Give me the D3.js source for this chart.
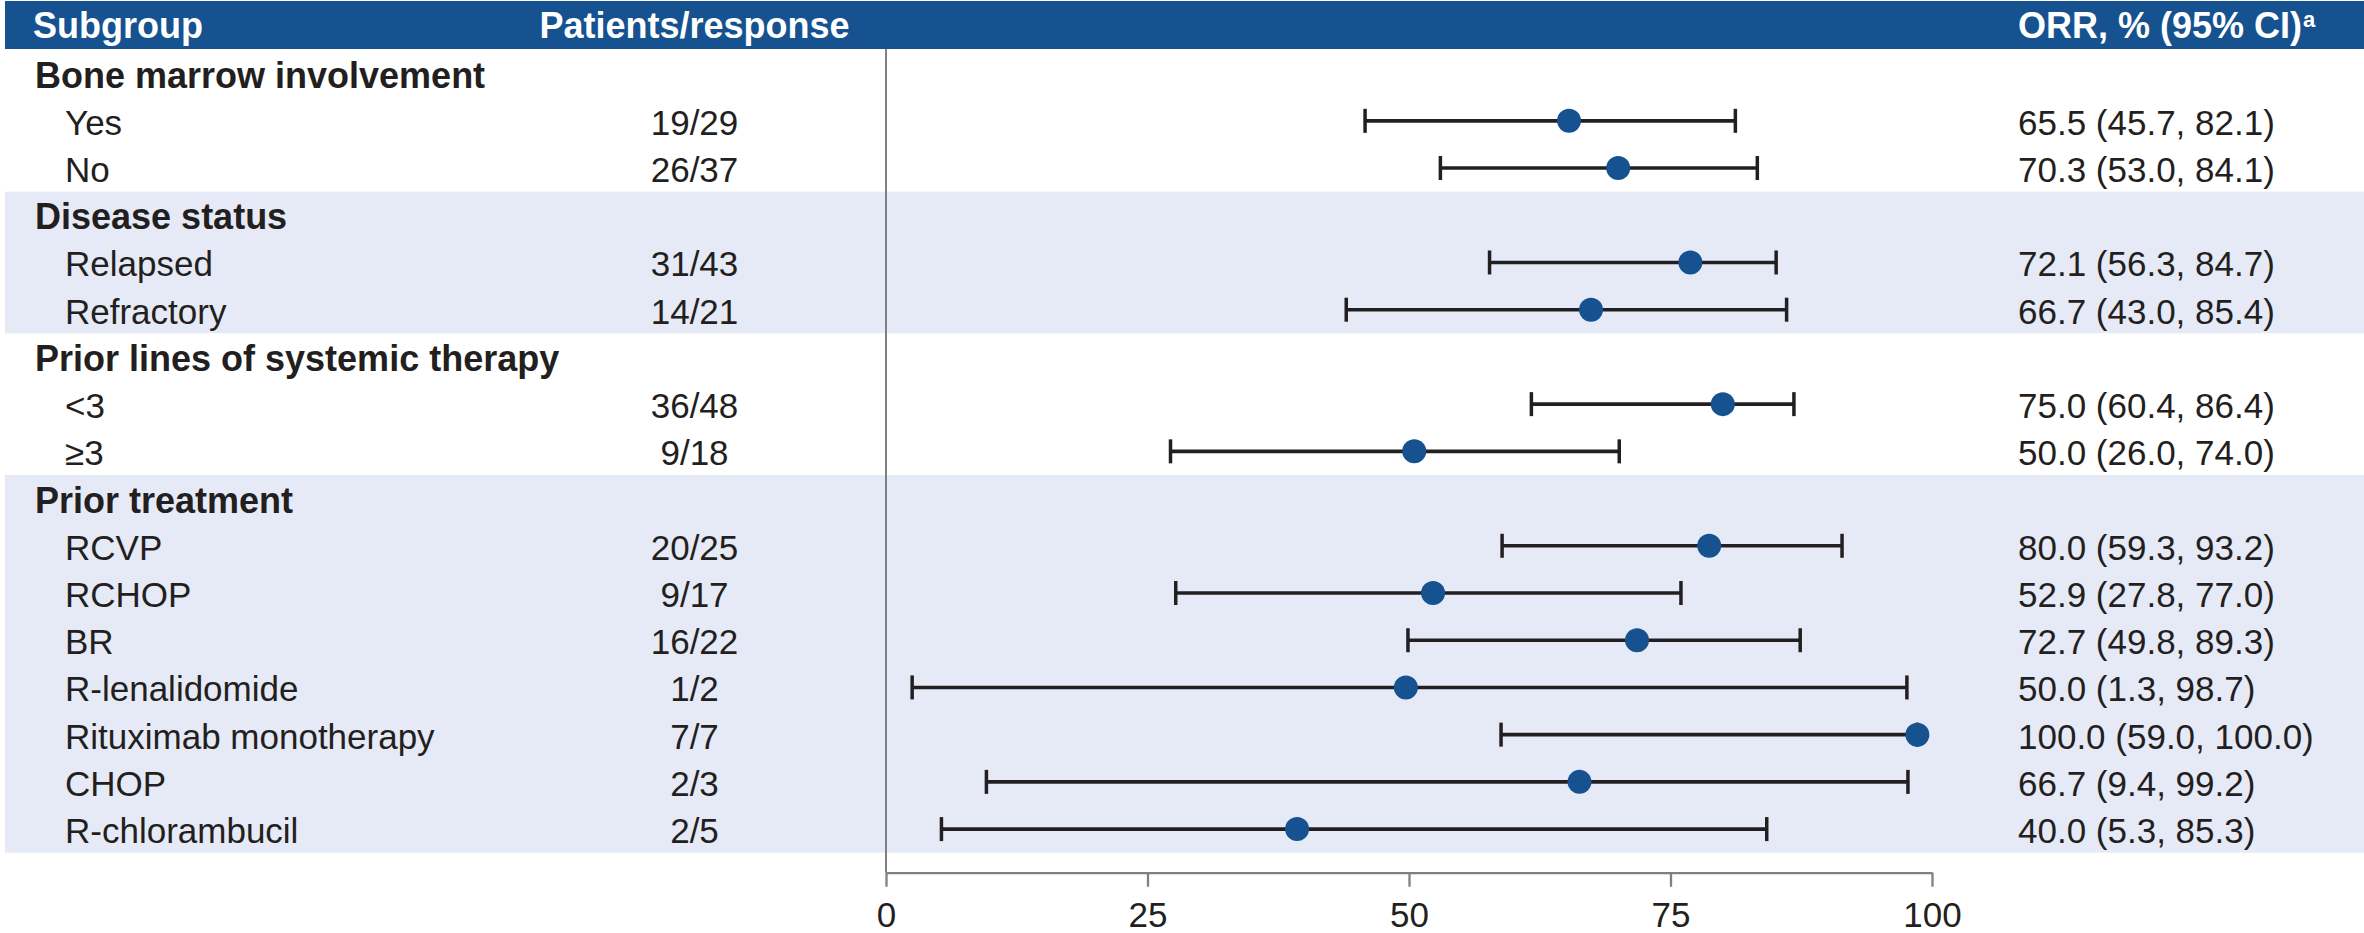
<!DOCTYPE html>
<html>
<head>
<meta charset="utf-8">
<script src="https://cdn.jsdelivr.net/npm/d3@7"></script>
<style>
  html, body { margin: 0; padding: 0; background: #ffffff; }
  svg { display: block; }
  text { font-family: "Liberation Sans", Arial, Helvetica, sans-serif; }
</style>
</head>
<body>
<svg id="chart" width="2364" height="933"></svg>
<script>
// ---- Data ----
const rowLabels = [
  "Bone marrow involvement", "Yes", "No",
  "Disease status", "Relapsed", "Refractory",
  "Prior lines of systemic therapy", "<3", "\u22653",
  "Prior treatment", "RCVP", "RCHOP", "BR", "R-lenalidomide",
  "Rituximab monotherapy", "CHOP", "R-chlorambucil"
];
const isGroupHeader = [true, false, false, true, false, false, true, false, false,
  true, false, false, false, false, false, false, false];
const responses = [null, "19/29", "26/37", null, "31/43", "14/21", null, "36/48", "9/18",
  null, "20/25", "9/17", "16/22", "1/2", "7/7", "2/3", "2/5"];
// ORR and 95% CI as printed in the right-hand column
const orr = [null, 65.5, 70.3, null, 72.1, 66.7, null, 75.0, 50.0,
  null, 80.0, 52.9, 72.7, 50.0, 100.0, 66.7, 40.0];
const ciLow = [null, 45.7, 53.0, null, 56.3, 43.0, null, 60.4, 26.0,
  null, 59.3, 27.8, 49.8, 1.3, 59.0, 9.4, 5.3];
const ciHigh = [null, 82.1, 84.1, null, 84.7, 85.4, null, 86.4, 74.0,
  null, 93.2, 77.0, 89.3, 98.7, 100.0, 99.2, 85.3];
// positions of the plotted marks (axis units)
const plotEst = [null, 65.3, 70.0, null, 76.9, 67.4, null, 80.0, 50.5,
  null, 78.7, 52.3, 71.8, 49.7, 98.6, 66.3, 39.3];
const plotLow = [null, 45.8, 53.0, null, 57.7, 44.0, null, 61.7, 27.2,
  null, 58.9, 27.7, 49.9, 2.5, 58.8, 9.6, 5.3];
const plotHigh = [null, 81.2, 83.3, null, 85.1, 86.1, null, 86.8, 70.1,
  null, 91.4, 76.0, 87.4, 97.6, 98.6, 97.7, 84.2];
// shaded sections: [first row index, last row index]
const shadedSections = [[3, 5], [9, 16]];
const xTicks = [0, 25, 50, 75, 100];
const headerLabels = ["Subgroup", "Patients/response", "ORR, % (95% CI)"];

// ---- Layout ----
const W = 2364, H = 933;
const navy = "#15528F";
const ink = "#231F20";
const band = "#E6EAF6";
const gray = "#808080";

const svg = d3.select("#chart");

const y = d3.scaleBand()
  .domain(d3.range(rowLabels.length))
  .range([50, 852.7])
  .paddingInner(0).paddingOuter(0);

const x = d3.scaleLinear().domain([0, 100]).range([886, 1932]);

const axisY = 872.7;

// shaded bands
svg.append("g").selectAll("rect")
  .data(shadedSections)
  .join("rect")
  .attr("x", 5)
  .attr("width", W - 5)
  .attr("y", d => y(d[0]))
  .attr("height", d => y(d[1]) + y.bandwidth() - y(d[0]))
  .attr("fill", band);

// header bar
svg.append("rect")
  .attr("x", 5).attr("y", 1)
  .attr("width", W - 5).attr("height", 48)
  .attr("fill", navy);

const hdr = svg.append("g").attr("fill", "#ffffff")
  .attr("font-weight", "bold").attr("font-size", 36);
hdr.append("text").attr("x", 33).attr("y", 37.5).text(headerLabels[0]);
hdr.append("text").attr("x", 694.5).attr("y", 37.5)
  .attr("text-anchor", "middle").text(headerLabels[1]);
const orrHdr = hdr.append("text").attr("x", 2018).attr("y", 37.5);
orrHdr.append("tspan").text(headerLabels[2]);
orrHdr.append("tspan").attr("font-size", 22).attr("dy", -11).attr("dx", 1).text("a");

// reference line at 0
svg.append("line")
  .attr("x1", x(0)).attr("x2", x(0))
  .attr("y1", 49).attr("y2", axisY)
  .attr("stroke", gray).attr("stroke-width", 2);

// axis
const axis = d3.axisBottom(x).tickValues(xTicks).tickSize(14).tickSizeOuter(0)
  .tickFormat(d3.format("d")).tickPadding(15);
const ax = svg.append("g").attr("transform", `translate(0,${axisY})`).call(axis);
ax.select(".domain").attr("stroke", gray).attr("stroke-width", 2.3);
ax.selectAll(".tick line").attr("stroke", gray).attr("stroke-width", 2.3);
ax.selectAll(".tick text").attr("fill", ink).attr("font-size", 35)
  .attr("font-family", "'Liberation Sans', Arial, sans-serif");

// rows
const rows = svg.append("g").selectAll("g")
  .data(d3.range(rowLabels.length))
  .join("g")
  .attr("transform", i => `translate(0,${y(i) + y.bandwidth() / 2})`);

rows.append("text")
  .attr("x", i => isGroupHeader[i] ? 35 : 65)
  .attr("y", 14)
  .attr("fill", ink)
  .attr("font-size", i => isGroupHeader[i] ? 36 : 35)
  .attr("font-weight", i => isGroupHeader[i] ? "bold" : "normal")
  .text(i => rowLabels[i]);

const dataRows = rows.filter(i => !isGroupHeader[i]);

dataRows.append("text")
  .attr("x", 694.5).attr("y", 14)
  .attr("text-anchor", "middle")
  .attr("fill", ink).attr("font-size", 35)
  .text(i => responses[i]);

dataRows.append("text")
  .attr("x", 2018).attr("y", 14)
  .attr("fill", ink).attr("font-size", 35)
  .text(i => `${orr[i].toFixed(1)} (${ciLow[i].toFixed(1)}, ${ciHigh[i].toFixed(1)})`);

// error bars
dataRows.append("line")
  .attr("x1", i => x(plotLow[i])).attr("x2", i => x(plotHigh[i]))
  .attr("y1", 0).attr("y2", 0)
  .attr("stroke", ink).attr("stroke-width", 3.6);
dataRows.append("line")
  .attr("x1", i => x(plotLow[i])).attr("x2", i => x(plotLow[i]))
  .attr("y1", -12).attr("y2", 12)
  .attr("stroke", ink).attr("stroke-width", 3.5);
dataRows.append("line")
  .attr("x1", i => x(plotHigh[i])).attr("x2", i => x(plotHigh[i]))
  .attr("y1", -12).attr("y2", 12)
  .attr("stroke", ink).attr("stroke-width", 3.5);
dataRows.append("circle")
  .attr("cx", i => x(plotEst[i])).attr("cy", 0)
  .attr("r", 12)
  .attr("fill", navy);
</script>
</body>
</html>
